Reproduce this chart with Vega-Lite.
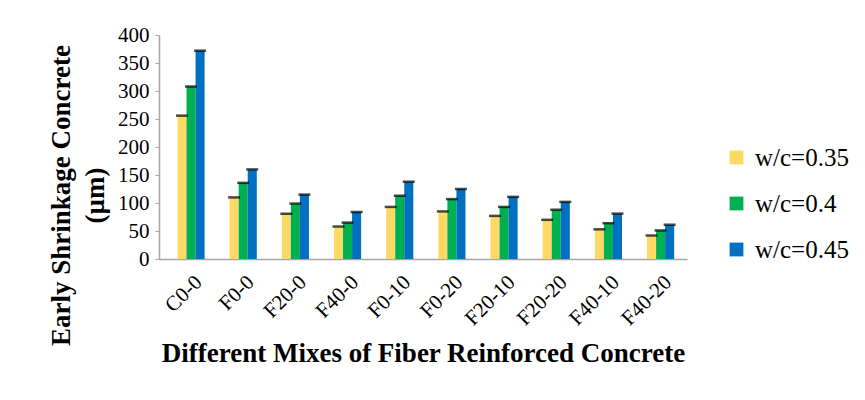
{
  "$schema": "https://vega.github.io/schema/vega-lite/v6.json",
  "autosize": {"type": "none"},
  "padding": {"left": 159, "top": 35, "right": 178, "bottom": 141},
  "width": 528,
  "height": 224,
  "background": "white",
  "config": {
    "view": {"stroke": null},
    "font": "Liberation Serif",
    "axis": {"grid": false, "domainColor": "#A6A6A6", "domainWidth": 1.5, "tickColor": "#A6A6A6", "labelColor": "#000", "titleColor": "#000", "labelFont": "Liberation Serif", "titleFont": "Liberation Serif"},
    "legend": {"labelFont": "Liberation Serif", "labelColor": "#000"}
  },
  "data": {
    "values": [
      {"mix": "C0-0", "wc": "w/c=0.35", "value": 256},
      {"mix": "C0-0", "wc": "w/c=0.4", "value": 308},
      {"mix": "C0-0", "wc": "w/c=0.45", "value": 372},
      {"mix": "F0-0", "wc": "w/c=0.35", "value": 110},
      {"mix": "F0-0", "wc": "w/c=0.4", "value": 136},
      {"mix": "F0-0", "wc": "w/c=0.45", "value": 160},
      {"mix": "F20-0", "wc": "w/c=0.35", "value": 81},
      {"mix": "F20-0", "wc": "w/c=0.4", "value": 99},
      {"mix": "F20-0", "wc": "w/c=0.45", "value": 115},
      {"mix": "F40-0", "wc": "w/c=0.35", "value": 58},
      {"mix": "F40-0", "wc": "w/c=0.4", "value": 65},
      {"mix": "F40-0", "wc": "w/c=0.45", "value": 84},
      {"mix": "F0-10", "wc": "w/c=0.35", "value": 93},
      {"mix": "F0-10", "wc": "w/c=0.4", "value": 113},
      {"mix": "F0-10", "wc": "w/c=0.45", "value": 138},
      {"mix": "F0-20", "wc": "w/c=0.35", "value": 85},
      {"mix": "F0-20", "wc": "w/c=0.4", "value": 107},
      {"mix": "F0-20", "wc": "w/c=0.45", "value": 125},
      {"mix": "F20-10", "wc": "w/c=0.35", "value": 77},
      {"mix": "F20-10", "wc": "w/c=0.4", "value": 93},
      {"mix": "F20-10", "wc": "w/c=0.45", "value": 111},
      {"mix": "F20-20", "wc": "w/c=0.35", "value": 70},
      {"mix": "F20-20", "wc": "w/c=0.4", "value": 88},
      {"mix": "F20-20", "wc": "w/c=0.45", "value": 102},
      {"mix": "F40-10", "wc": "w/c=0.35", "value": 53},
      {"mix": "F40-10", "wc": "w/c=0.4", "value": 64},
      {"mix": "F40-10", "wc": "w/c=0.45", "value": 81},
      {"mix": "F40-20", "wc": "w/c=0.35", "value": 42},
      {"mix": "F40-20", "wc": "w/c=0.4", "value": 51},
      {"mix": "F40-20", "wc": "w/c=0.45", "value": 61}
    ]
  },
  "encoding": {
    "x": {
      "field": "mix", "type": "nominal", "sort": null,
      "scale": {"paddingInner": 0.48, "paddingOuter": 0.3, "align": 0.59},
      "axis": {"title": "Different Mixes of Fiber Reinforced Concrete", "titleFontSize": 27, "titleFontWeight": "bold", "titlePadding": 12, "labelAngle": -45, "labelFontSize": 21, "labelPadding": 12, "ticks": false}
    },
    "xOffset": {"field": "wc", "type": "nominal", "sort": null, "scale": {"paddingInner": 0}},
    "y": {
      "field": "value", "type": "quantitative",
      "scale": {"domain": [0, 400], "nice": false},
      "axis": {"title": ["Early Shrinkage Concrete", "(µm)"], "titleFontSize": 27, "titleFontWeight": "bold", "titleLineHeight": 34, "titleY": 160, "titlePadding": 8, "values": [0, 50, 100, 150, 200, 250, 300, 350, 400], "labelOverlap": false, "labelFontSize": 21, "tickSize": 4, "labelPadding": 6}
    }
  },
  "layer": [
    {
      "mark": {"type": "bar"},
      "encoding": {
        "color": {
          "field": "wc", "type": "nominal", "sort": null,
          "scale": {"domain": ["w/c=0.35", "w/c=0.4", "w/c=0.45"], "range": ["#FFD966", "#00B050", "#0070C0"]},
          "legend": {"title": null, "orient": "none", "legendX": 565, "legendY": 110, "symbolType": "square", "symbolSize": 190, "symbolStrokeWidth": 0, "labelFontSize": 25, "rowPadding": 20, "labelOffset": 6}
        }
      }
    },
    {
      "mark": {"type": "tick", "color": "black", "thickness": 2.5, "size": 12, "orient": "horizontal"},
      "encoding": {}
    }
  ]
}
